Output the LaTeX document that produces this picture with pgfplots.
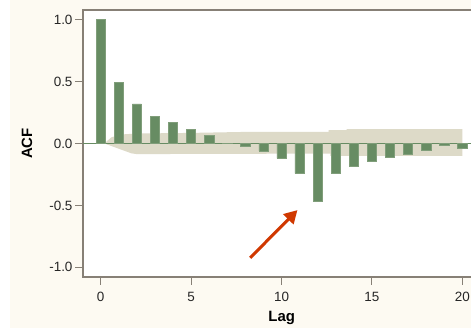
\documentclass[border=0pt]{standalone}
\usepackage{fontspec}
\setmainfont{Liberation Sans}
\usepackage{pgfplots}
\pgfplotsset{compat=1.18}
\usetikzlibrary{arrows.meta}
\definecolor{barg}{RGB}{103,140,99}
\definecolor{bare}{RGB}{128,158,122}
\definecolor{band}{RGB}{221,218,200}
\definecolor{cream}{RGB}{253,250,242}
\definecolor{axg}{RGB}{135,128,118}
\definecolor{arr}{RGB}{208,56,0}
\begin{document}
\begin{tikzpicture}
\fill[white] (0,0) rectangle (471bp,328bp);
\fill[cream] (10bp,0) rectangle (471bp,328bp);
\begin{axis}[
  at={(83bp,51bp)}, anchor=south west,
  scale only axis, width=392bp, height=267bp,
  xmin=-0.979, xmax=20.70, ymin=-1.078, ymax=1.077,
  axis background/.style={fill=white},
  axis line style={axg, line width=1.3bp},
  tick style={axg, line width=1bp},
  major tick length=7.5bp,
  tick align=outside,
  xtick pos=left, ytick pos=left,
  xtick={0,5,10,15,20}, xticklabels={0,5,10,15,20},
  ytick={-1,-0.5,0,0.5,1}, yticklabels={-1.0,-0.5,0.0,0.5,1.0},
  ticklabel style={font=\fontsize{13.5}{15}\selectfont, text=black!85},
  yticklabel style={xshift=0.5bp},
  xticklabel style={yshift=-4bp},
  xlabel={Lag}, ylabel={ACF},
  label style={font=\bfseries\fontsize{15}{17}\selectfont},
  xlabel style={at={(axis description cs:0.507,-0.1674)}, anchor=base},
  ylabel style={at={(axis description cs:-0.1429,0.5)}, anchor=center},
]
% confidence band
\addplot[fill=band, draw=none] coordinates {
  (0.2,0) (0.6,0.05) (1.2,0.073) (2,0.080) (5,0.085) (8,0.093) (12.6,0.094)
  (12.6,0.107) (13.6,0.107) (13.6,0.116) (20,0.116)
  (20,-0.101) (12.7,-0.101) (12.7,-0.082) (7,-0.084) (2,-0.086) (1.7,-0.080)
  (0.2,0)
} -- cycle;
% zero line
\addplot[barg, line width=1bp] coordinates {(-0.979,0) (20.7,0)};
% ACF bars
\addplot[ybar, bar width=0.51, fill=barg, draw=bare, line width=0.5bp] coordinates {
  (0,1.0) (1,0.49) (2,0.32) (3,0.22) (4,0.17) (5,0.113) (6,0.065) (7,0.003)
  (8,-0.021) (9,-0.061) (10,-0.12) (11,-0.242) (12,-0.468) (13,-0.242)
  (14,-0.183) (15,-0.143) (16,-0.112) (17,-0.09) (18,-0.053) (19,-0.018) (20,-0.041)
};
\draw[arr, line width=3bp, -{Triangle[length=13bp, width=14bp]}]
  (axis cs:8.27,-0.923) -- (axis cs:10.88,-0.538);
\end{axis}
\pgfresetboundingbox
\path[use as bounding box] (0,0) rectangle (471bp,328bp);
\end{tikzpicture}
\end{document}
